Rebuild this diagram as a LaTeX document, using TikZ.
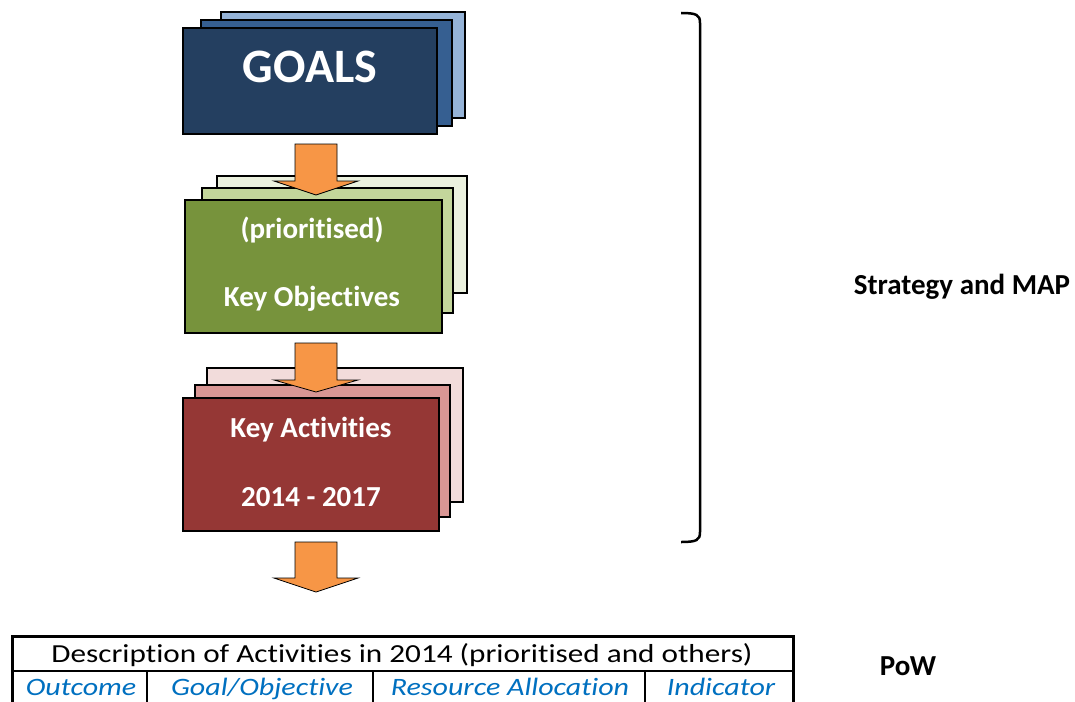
\documentclass[tikz,border=0pt]{standalone}
\usepackage{fontspec}
\setmainfont{Carlito}[Ligatures=NoCommon, Contextuals=NoAlternate]
\newfontfamily\tablefont[FakeStretch=1.2, Ligatures=NoCommon, Contextuals=NoAlternate]{Carlito}
\usetikzlibrary{positioning}
\definecolor{navyA}{HTML}{243F60}
\definecolor{navyB}{HTML}{365F91}
\definecolor{navyC}{HTML}{95B3D7}
\definecolor{oliveA}{HTML}{77933C}
\definecolor{oliveB}{HTML}{C3D69B}
\definecolor{oliveC}{HTML}{EBF1DE}
\definecolor{wineA}{HTML}{953735}
\definecolor{wineB}{HTML}{D99694}
\definecolor{wineC}{HTML}{F2DCDB}
\definecolor{arroworange}{HTML}{F79646}
\definecolor{tableblue}{HTML}{0070C0}
\tikzset{
  sheet/.style={draw=black, line width=1.5pt},
  boxtext/.style={text=white, font=\bfseries\fontsize{29}{34}\selectfont, anchor=base, inner sep=0pt},
  sidetext/.style={font=\bfseries\fontsize{29}{34}\selectfont, anchor=base, inner sep=0pt},
  headtext/.style={font=\tablefont\fontsize{26}{30}\selectfont, anchor=base, inner sep=0pt},
  coltext/.style={text=tableblue, font=\tablefont\itshape\fontsize{25}{30}\selectfont, anchor=base, inner sep=0pt}
}
\begin{document}
\begin{tikzpicture}[x=1pt, y=-1pt]
  \clip (0,0) rectangle (1075,701);
  \fill[white] (0,0) rectangle (1075,701);
  % stacked sheets: back, middle, front
  \foreach \xa/\ya/\xb/\yb/\col in {221/12/465/118/navyC, 201/20/452/126/navyB, 183/28/437/134/navyA,
                                   217/176/467/293/oliveC, 202/188/453/313/oliveB, 185/200/442/333/oliveA,
                                   207/368/463/502/wineC, 195/385/450/517/wineB, 183/398/439/531/wineA} {
      \filldraw[sheet, fill=\col] (\xa,\ya) rectangle (\xb,\yb);
  }
  % texts on the front sheets
  \node[boxtext, font=\bfseries\fontsize{48}{54}\selectfont] (goals) at (310,82) {GOALS};
  \node[boxtext] (prio) at (312,238) {(prioritised)};
  \node[boxtext] (objectives) at (312,306) {Key Objectives};
  \node[boxtext] (activities) at (311,437) {Key Activities};
  \node[boxtext] (years) at (311,506) {2014 - 2017};
  % block arrows
  \foreach \t/\h/\p in {144/181/195, 343/380/392, 542/578/592} {
      \filldraw[fill=arroworange, draw=black, line width=0.8pt]
        (295,\t) -- (337,\t) -- (337,\h) -- (358,\h) -- (316,\p) -- (274,\h) -- (295,\h) -- cycle;
  }
  % bracket
  \draw[line width=2.5pt] (681,13) .. controls (697,13) and (700,15) .. (700,23)
        -- (700,532) .. controls (700,540) and (697,542) .. (681,542);
  \node[sidetext] (strategy) at (962,294) {Strategy and MAP};
  \node[sidetext] (pow) at (908,675) {PoW};
  % table
  \draw[line width=3pt] (12,636) rectangle (793,730);
  \draw[line width=1.5pt] (12,671) -- (793,671);
  \foreach \x in {147,373,645} {
      \draw[line width=1.5pt] (\x,671) -- (\x,730);
  }
  \node[headtext] (desc) at (402,662) {Description of Activities in 2014 (prioritised and others)};
  \node[coltext] (outcome) at (81,695) {Outcome};
  \node[coltext] (goalobj) at (262,695) {Goal/Objective};
  \node[coltext] (resource) at (510,695) {Resource Allocation};
  \node[coltext] (indicator) at (721,695) {Indicator};
\end{tikzpicture}
\end{document}
